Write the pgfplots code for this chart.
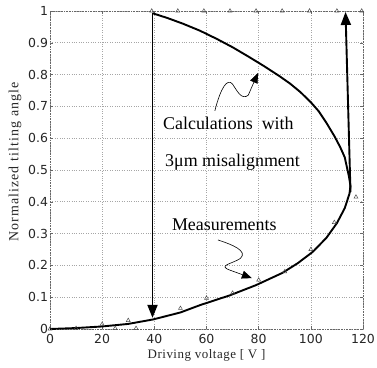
\documentclass[border=0pt]{standalone}
\usepackage{fontspec}
\setmainfont{Liberation Serif}
\setsansfont{DejaVu Sans}
\usepackage{pgfplots}
\pgfplotsset{compat=1.18}
\usetikzlibrary{arrows.meta}
\begin{document}
\begin{tikzpicture}
\useasboundingbox (-50bp,-39bp) rectangle (327bp,329bp);
\begin{axis}[
  at={(0,0)}, anchor=south west,
  scale only axis, width=313bp, height=318bp,
  xmin=0, xmax=120, ymin=0, ymax=1,
  xtick={0,20,...,120}, ytick={0,0.1,...,1.0},
  yticklabels={0,0.1,0.2,0.3,0.4,0.5,0.6,0.7,0.8,0.9,1},
  /pgf/number format/assume math mode=true,
  tick label style={font=\sffamily\fontsize{12.5}{14}\selectfont, black!85},
  xticklabel style={yshift=-1.5bp},
  yticklabel style={xshift=1.5bp},
  tick align=inside, major tick length=3bp,
  tick style={black!60, thin},
  grid=major, grid style={black!35, dotted, line width=0.6bp},
  axis line style={black!60, densely dotted, line width=0.6bp},
  xlabel={Driving voltage [ V ]},
  ylabel={Normalized tilting angle},
  xlabel style={font=\addfontfeature{LetterSpace=4}\fontsize{13}{15}\selectfont, black!85,
    at={(axis description cs:0.5,-0.082)}, anchor=center},
  ylabel style={font=\addfontfeature{LetterSpace=8}\fontsize{14}{15}\selectfont, black!85,
    at={(axis description cs:-0.112,0.525)}, anchor=center},
  clip=false,
]
% calculated curve
\addplot[black, line width=1.9bp, line join=round] coordinates {
(0,0) (10,0.003) (20,0.008) (30,0.016) (39.5,0.03) (50,0.052) (57.5,0.075)
(69,0.106) (79,0.138) (89,0.176) (95,0.207) (100.8,0.243) (106,0.287)
(110,0.333) (113,0.38) (114.8,0.425) (115.2,0.45) (114.6,0.48) (113.8,0.51)
(113,0.54) (111.2,0.573) (109,0.607) (106,0.648) (103,0.685) (100,0.713)
(96,0.745) (92,0.772) (88,0.795) (82,0.827) (76,0.857) (70,0.886)
(64,0.912) (57.5,0.938) (51,0.96) (45,0.978) (39.3,0.993)
};
% measurements
\addplot[only marks, mark=triangle, mark size=2.3bp, black!70, mark options={line width=0.5bp}] coordinates {
(39,1) (49,1) (59,1) (69,1) (79,1) (89,1) (99.5,1) (110,1) (119.5,1)
(0,0) (10,0.002) (20,0.015) (25,0.002) (30,0.027) (33,0.002)
(50,0.065) (60,0.097) (70,0.113) (80,0.154) (90,0.18) (100,0.25)
(109,0.335) (117.3,0.415)
};
% big arrows
\draw[black, line width=1.9bp, -{Triangle[length=13bp,width=10bp]}] (axis cs:39.3,0.993) -- (axis cs:39.3,0.035);
\draw[black, line width=1.9bp, -{Triangle[length=13bp,width=10bp]}] (axis cs:115.2,0.43) -- (axis cs:113.3,0.997);
% squiggle arrows
\draw[black, line width=0.6bp, -{Triangle[length=10bp,width=8bp]}]
  (axis cs:63.2,0.686) .. controls (axis cs:65.5,0.76) and (axis cs:68,0.79) .. (axis cs:70,0.77)
  .. controls (axis cs:72,0.745) and (axis cs:73.5,0.72) .. (axis cs:76,0.735)
  -- (axis cs:79.7,0.805);
\draw[black, line width=0.6bp, -{Triangle[length=10bp,width=8bp]}]
  (axis cs:64.4,0.28) .. controls (axis cs:70,0.265) and (axis cs:76,0.245) .. (axis cs:73,0.222)
  .. controls (axis cs:70,0.205) and (axis cs:64,0.2) .. (axis cs:69,0.185)
  -- (axis cs:77.4,0.16);
% annotations
\node[anchor=base west, font=\fontsize{18}{22}\selectfont, inner sep=0pt] at (axis cs:43.3,0.626) {Calculations\ \ with};
\node[anchor=base west, font=\fontsize{18}{22}\selectfont, inner sep=0pt] at (axis cs:44.1,0.51) {3μm misalignment};
\node[anchor=base west, font=\fontsize{18}{22}\selectfont, inner sep=0pt] at (axis cs:46.7,0.311) {Measurements};
\end{axis}
\end{tikzpicture}
\end{document}
